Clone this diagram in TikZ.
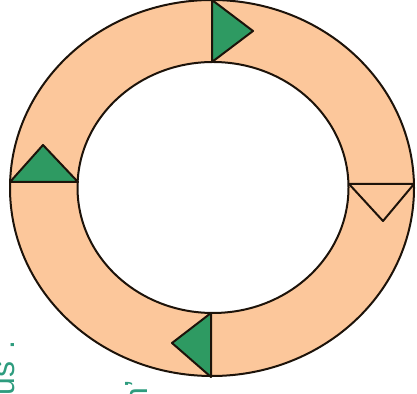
\documentclass[tikz,border=0pt]{standalone}
\usepackage{fontspec}
\setmainfont{Liberation Sans}
\definecolor{peach}{HTML}{FCC79B}
\definecolor{leaf}{HTML}{2E9A62}
\definecolor{teal}{HTML}{2E9C7E}
\begin{document}
\begin{tikzpicture}[x=0.5pt,y=-0.5pt,
  edge/.style={draw=black!85!brown, line width=1pt},
  tri/.style={draw=black!85!brown, line width=1pt, line join=round, fill=leaf},
  opentri/.style={draw=black!85!brown, line width=1pt, line join=round},
  frag/.style={text=teal, font=\fontsize{16}{18}\selectfont, inner sep=0pt}]
\useasboundingbox (0,0) rectangle (417,394);
% ring
\fill[peach, even odd rule] (212,188) ellipse [x radius=202, y radius=188]
  (213,187.5) ellipse [x radius=135.5, y radius=125.5];
\draw[edge] (212,188) ellipse [x radius=202, y radius=188];
\draw[edge] (213,187.5) ellipse [x radius=135.5, y radius=125.5];
% dividers
\coordinate (tA) at (212,0);   \coordinate (tB) at (212,62);  \coordinate (tC) at (253,31);
\coordinate (lA) at (10,182);  \coordinate (lB) at (78,182);  \coordinate (lC) at (43,145);
\coordinate (rA) at (349,184); \coordinate (rB) at (414,184); \coordinate (rC) at (383,221);
\coordinate (bA) at (211,313); \coordinate (bB) at (211,377); \coordinate (bC) at (172,343);
\draw[tri] (tA) -- (tB) -- (tC) -- cycle;
\draw[tri] (lA) -- (lB) -- (lC) -- cycle;
\draw[opentri] (rA) -- (rB) -- (rC) -- cycle;
\draw[tri] (bA) -- (bB) -- (bC) -- cycle;
% stray text fragments
\node[frag, rotate=90, anchor=base west] (f1) at (14,396) {us\hspace{6pt}.};
\node[frag, rotate=90, anchor=base west] (f2) at (147,406) {n'};
\node[frag, anchor=base west] (f3) at (223,420) {fi};
\end{tikzpicture}
\end{document}
